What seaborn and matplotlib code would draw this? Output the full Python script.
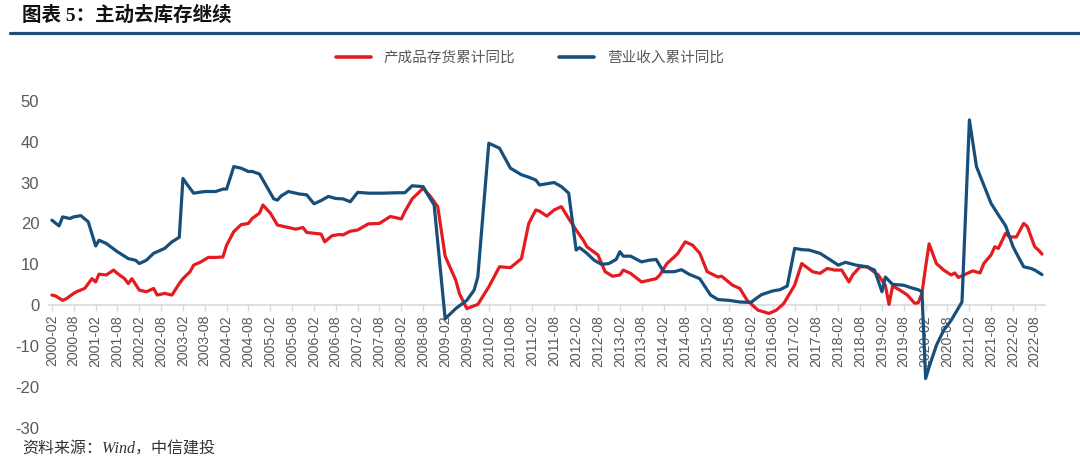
import matplotlib
matplotlib.use("Agg")
import matplotlib.pyplot as plt
from matplotlib.lines import Line2D
import pandas as pd
import seaborn as sns

# ---------------- data ----------------
inv_name = "产成品存货累计同比"
rev_name = "营业收入累计同比"

rev_dates = ["2000-02","2000-04","2000-05","2000-07","2000-08","2000-10","2000-12",
             "2001-02","2001-03","2001-05","2001-08","2001-11","2002-01","2002-02",
             "2002-04","2002-06","2002-09","2002-11","2003-01","2003-02","2003-03",
             "2003-05","2003-08","2003-11","2004-01","2004-02","2004-04","2004-06",
             "2004-08","2004-09","2004-11","2004-12","2005-03","2005-04","2005-05",
             "2005-07","2005-10","2005-12","2006-02","2006-04","2006-06","2006-08",
             "2006-10","2006-12","2007-02","2007-05","2007-09","2008-01","2008-03",
             "2008-05","2008-08","2008-09","2008-11","2009-02","2009-05","2009-08",
             "2009-10","2009-11","2010-02","2010-05","2010-08","2010-11","2011-01",
             "2011-03","2011-04","2011-06","2011-08","2011-10","2011-12","2012-02",
             "2012-03","2012-05","2012-07","2012-09","2012-11","2013-01","2013-02",
             "2013-03","2013-05","2013-08","2013-10","2013-12","2014-02","2014-05",
             "2014-07","2014-09","2014-12","2015-03","2015-05","2015-08","2015-11",
             "2016-02","2016-04","2016-05","2016-08","2016-10","2016-12","2017-02",
             "2017-04","2017-06","2017-09","2017-12","2018-02","2018-04","2018-07",
             "2018-10","2018-12","2019-02","2019-03","2019-05","2019-08","2019-10",
             "2019-12","2020-01","2020-02","2020-03","2020-05","2020-07","2020-09",
             "2020-12","2021-02","2021-04","2021-06","2021-08","2021-10","2021-12",
             "2022-02","2022-03","2022-05","2022-07","2022-08","2022-10"]
rev_vals = [20.8,19.4,21.6,21.2,21.6,21.9,20.4,
            14.5,15.9,15.1,13.1,11.4,11.0,10.2,
            11.0,12.7,13.9,15.5,16.6,31.0,29.8,
            27.4,27.8,27.8,28.4,28.4,33.9,33.5,
            32.7,32.7,32.1,30.6,26.0,25.7,26.7,
            27.8,27.2,27.0,24.8,25.6,26.6,26.1,
            26.0,25.3,27.6,27.4,27.4,27.5,27.5,
            29.2,29.0,27.4,24.5,-3.3,-0.8,1.2,
            3.7,6.9,39.6,38.4,33.5,31.9,31.3,
            30.6,29.4,29.7,30.0,29.0,27.4,13.5,
            14.1,12.7,11.0,10.0,10.2,11.2,13.1,
            12.0,12.0,10.6,11.0,11.2,8.2,8.2,
            8.7,7.6,6.5,2.5,1.4,1.2,0.8,
            0.7,2.0,2.6,3.5,3.8,4.7,13.9,
            13.6,13.5,12.7,11.0,9.8,10.5,9.8,
            9.4,8.6,3.3,6.9,5.1,4.9,4.3,
            3.8,3.3,-17.9,-15.1,-9.8,-6.1,-3.7,
            0.8,45.3,33.9,29.4,24.9,22.1,19.4,
            14.3,12.7,9.4,9.0,8.6,7.5]

inv_dates = ["2000-02","2000-03","2000-05","2000-06","2000-08","2000-09","2000-11",
             "2001-01","2001-02","2001-03","2001-05","2001-07","2001-08","2001-10",
             "2001-11","2001-12","2002-02","2002-04","2002-06","2002-07","2002-09",
             "2002-11","2003-01","2003-02","2003-04","2003-05","2003-07","2003-09",
             "2003-11","2004-01","2004-02","2004-04","2004-06","2004-08","2004-09",
             "2004-11","2004-12","2005-02","2005-04","2005-06","2005-07","2005-09",
             "2005-11","2005-12","2006-02","2006-04","2006-05","2006-07","2006-09",
             "2006-10","2006-12","2007-02","2007-05","2007-08","2007-11","2008-02",
             "2008-03","2008-05","2008-08","2008-10","2008-12","2009-02","2009-05",
             "2009-06","2009-08","2009-11","2010-02","2010-05","2010-08","2010-11",
             "2011-01","2011-03","2011-04","2011-06","2011-08","2011-10","2011-12",
             "2012-02","2012-04","2012-05","2012-08","2012-10","2012-12","2013-02",
             "2013-03","2013-05","2013-08","2013-12","2014-01","2014-03","2014-05",
             "2014-06","2014-08","2014-10","2014-12","2015-02","2015-05","2015-06",
             "2015-09","2015-11","2016-01","2016-04","2016-07","2016-09","2016-11",
             "2017-02","2017-04","2017-07","2017-09","2017-11","2018-01","2018-03",
             "2018-05","2018-06","2018-08","2018-10","2019-01","2019-03","2019-04",
             "2019-05","2019-07","2019-09","2019-11","2019-12","2020-01","2020-02",
             "2020-03","2020-05","2020-07","2020-09","2020-10","2020-11","2021-01",
             "2021-03","2021-05","2021-06","2021-08","2021-09","2021-10","2021-12",
             "2022-01","2022-03","2022-05","2022-06","2022-08","2022-09","2022-10"]
inv_vals = [2.5,2.3,1.2,1.6,2.9,3.4,4.1,
            6.5,5.7,7.6,7.4,8.6,7.8,6.5,
            5.3,6.5,3.7,3.3,4.1,2.5,2.9,
            2.5,5.3,6.5,8.2,9.8,10.6,11.7,
            11.7,11.8,14.7,18.0,19.7,20.0,21.2,
            22.5,24.5,22.5,19.6,19.2,19.0,18.6,
            19.0,17.8,17.6,17.4,15.5,17.0,17.3,
            17.2,18.1,18.4,19.9,20.0,21.7,21.1,
            22.9,26.0,28.6,26.6,24.1,12.0,6.1,
            2.8,-0.8,0.2,4.5,9.4,9.2,11.4,
            20.0,23.3,23.0,21.8,23.3,24.1,21.2,
            18.4,15.9,14.3,12.3,8.2,7.1,7.4,
            8.6,7.8,5.7,6.5,7.4,10.2,11.8,
            12.7,15.5,14.7,12.7,8.2,6.9,7.1,
            4.9,4.1,1.2,-1.2,-2.0,-1.2,0.4,
            4.9,10.2,8.2,7.8,9.0,8.6,8.6,
            5.7,7.4,9.4,9.4,7.4,4.9,0.2,
            4.7,3.7,2.5,0.5,0.6,2.9,9.4,
            15.0,10.2,8.6,7.4,7.9,6.8,7.6,
            8.4,7.9,10.2,12.3,14.3,13.9,17.6,
            16.7,16.7,20.0,19.2,14.3,13.5,12.5]

y_ticks = [-30, -20, -10, 0, 10, 20, 30, 40, 50]
title_text = "图表 5：主动去库存继续"
source_text = "资料来源：Wind，中信建投"

# ---------------- frame ----------------
df = pd.concat([
    pd.DataFrame({"date": pd.to_datetime(inv_dates), "value": inv_vals, "series": inv_name}),
    pd.DataFrame({"date": pd.to_datetime(rev_dates), "value": rev_vals, "series": rev_name}),
], ignore_index=True)

sns.set_theme(style="white")
plt.rcParams["font.family"] = ["Liberation Sans", "Noto Sans CJK SC", "DejaVu Sans"]

RED = "#e41b1f"
BLUE = "#174f7c"
GRAY = "#595959"

fig = plt.figure(figsize=(10.8, 4.59), dpi=100)
ax = fig.add_axes([49 / 1080, 1 - 428 / 459, 996 / 1080, (428 - 100.7) / 459])

sns.lineplot(data=df, x="date", y="value", hue="series",
             hue_order=[inv_name, rev_name], palette=[RED, BLUE],
             linewidth=2.3, ax=ax, legend=True)

ax.set_xlabel("")
ax.set_ylabel("")
ax.set_ylim(-30, 50)
ax.set_xlim(pd.Timestamp("2000-01-08"), pd.Timestamp("2022-10-26"))
ax.set_yticks(y_ticks)
ax.set_yticklabels([str(v) for v in y_ticks])

xt = pd.date_range("2000-02-01", "2022-08-01", freq="6MS")
ax.set_xticks(xt)
ax.set_xticklabels([d.strftime("%Y-%m") for d in xt])

for s in ["top", "right", "left"]:
    ax.spines[s].set_visible(False)
ax.spines["bottom"].set_position(("data", 0))
ax.spines["bottom"].set_color("#d9d9d9")
ax.spines["bottom"].set_linewidth(1.2)
ax.spines["bottom"].set_zorder(0)

ax.tick_params(axis="x", bottom=True, length=4, width=1, color="#d9d9d9",
               labelsize=10.2, labelcolor=GRAY, pad=3, labelrotation=90)
for lbl in ax.get_xticklabels():
    lbl.set_rotation(90)
    lbl.set_ha("center")
    lbl.set_va("top")
ax.tick_params(axis="y", left=False, length=0, labelsize=12, labelcolor=GRAY, pad=7)
ax.grid(False)

handles, labels = ax.get_legend_handles_labels()
ax.get_legend().remove()
leg = fig.legend(handles, labels, loc="center", bbox_to_anchor=(530 / 1080, 1 - 58 / 459),
                 ncol=2, frameon=False, fontsize=10.5, handlelength=2.4,
                 handletextpad=0.9, columnspacing=3.0)
for t in leg.get_texts():
    t.set_color(GRAY)
for h in leg.get_lines():
    h.set_linewidth(2.6)

fig.text(22 / 1080, 1 - 15 / 459, title_text, fontsize=14, fontweight="bold",
         va="center", ha="left", color="#111111",
         family=["Liberation Serif", "Noto Sans CJK SC"])
fig.add_artist(Line2D([10 / 1080, 1.0], [1 - 33 / 459, 1 - 33 / 459],
                      color="#1f4e79", linewidth=2.3))
fig.text(22 / 1080, 1 - 450 / 459, source_text, fontsize=11.5, style="italic",
         va="center", ha="left", color="#333333",
         family=["Liberation Serif", "Noto Sans CJK SC"])

fig.savefig("out.png", dpi=100)
